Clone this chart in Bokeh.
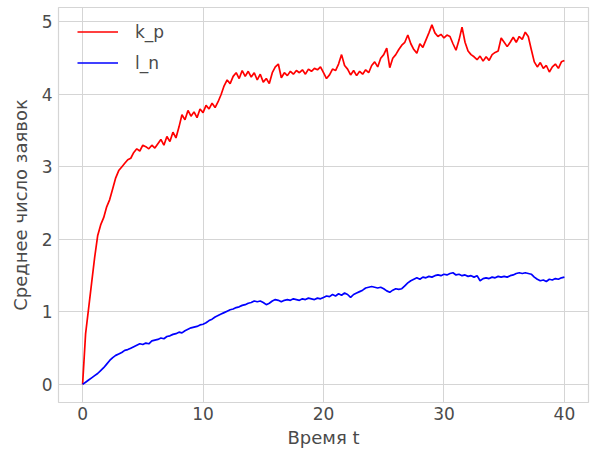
from bokeh.plotting import figure
from bokeh.models import Range1d, FixedTicker, Legend, LegendItem
from bokeh.embed import file_html
from bokeh.resources import INLINE

# Mean number of requests over time (step 0.25)
k_p = [
    0.0, 0.7, 1.05, 1.4, 1.75, 2.05, 2.2, 2.3, 2.45, 2.55, 2.7, 2.85, 2.95, 3.0, 3.05, 3.1,
    3.12, 3.2, 3.25, 3.22, 3.3, 3.28, 3.25, 3.3, 3.26, 3.32, 3.38, 3.3, 3.42, 3.35, 3.48, 3.4,
    3.55, 3.72, 3.65, 3.78, 3.7, 3.76, 3.68, 3.8, 3.75, 3.85, 3.8, 3.88, 3.82, 3.9, 4.0, 4.12,
    4.2, 4.15, 4.25, 4.3, 4.22, 4.33, 4.25, 4.32, 4.24, 4.3, 4.2, 4.28, 4.17, 4.22, 4.15, 4.3,
    4.38, 4.42, 4.23, 4.3, 4.26, 4.32, 4.28, 4.33, 4.3, 4.34, 4.28, 4.35, 4.32, 4.36, 4.34, 4.38,
    4.3, 4.22, 4.27, 4.35, 4.33, 4.42, 4.55, 4.4, 4.35, 4.27, 4.33, 4.26, 4.32, 4.28, 4.34, 4.3,
    4.4, 4.45, 4.38, 4.5, 4.55, 4.64, 4.37, 4.5, 4.55, 4.62, 4.68, 4.72, 4.82, 4.7, 4.62, 4.57,
    4.7, 4.65, 4.75, 4.85, 4.96, 4.85, 4.8, 4.83, 4.78, 4.82, 4.8, 4.7, 4.61, 4.75, 4.93, 4.72,
    4.6, 4.55, 4.52, 4.48, 4.53, 4.46, 4.52, 4.47, 4.55, 4.58, 4.6, 4.78, 4.72, 4.66, 4.72, 4.79,
    4.72, 4.8, 4.76, 4.86, 4.8, 4.62, 4.45, 4.38, 4.44, 4.36, 4.4, 4.31, 4.38, 4.42, 4.36, 4.45,
    4.47,
]
l_n = [
    0.0, 0.03, 0.06, 0.09, 0.12, 0.15, 0.19, 0.23, 0.28, 0.33, 0.37, 0.4, 0.42, 0.44, 0.47, 0.48,
    0.5, 0.52, 0.54, 0.56, 0.55, 0.57, 0.56, 0.6, 0.61, 0.62, 0.64, 0.63, 0.66, 0.67, 0.69, 0.7,
    0.72, 0.71, 0.74, 0.76, 0.78, 0.79, 0.8, 0.82, 0.83, 0.85, 0.88, 0.9, 0.93, 0.95, 0.97, 0.99,
    1.01, 1.03, 1.04, 1.06, 1.07, 1.09, 1.1, 1.12, 1.13, 1.15, 1.14, 1.15, 1.13, 1.1, 1.12, 1.15,
    1.17, 1.16, 1.14, 1.16, 1.17, 1.16, 1.18, 1.17, 1.16, 1.18, 1.17, 1.19, 1.18, 1.17, 1.19, 1.18,
    1.2, 1.22, 1.21, 1.24, 1.22, 1.25, 1.23, 1.26, 1.24, 1.2, 1.24, 1.26, 1.28, 1.3, 1.33, 1.34,
    1.35, 1.34, 1.33, 1.34, 1.32, 1.29, 1.27, 1.3, 1.32, 1.31, 1.32, 1.36, 1.4, 1.43, 1.45, 1.47,
    1.45, 1.48, 1.47, 1.49, 1.48, 1.5, 1.51, 1.5, 1.52, 1.51, 1.53, 1.54, 1.51, 1.52, 1.5, 1.51,
    1.49, 1.5, 1.48, 1.5, 1.43, 1.46, 1.47, 1.46, 1.48, 1.47, 1.49, 1.48, 1.49, 1.48, 1.5, 1.51,
    1.53, 1.54, 1.53, 1.54, 1.53, 1.52, 1.48, 1.45, 1.43, 1.44, 1.42, 1.45, 1.44, 1.46, 1.45, 1.47,
    1.48,
]
time_step = 0.25
t = [i * time_step for i in range(len(k_p))]

x_ticks = [0, 10, 20, 30, 40]
y_ticks = [0, 1, 2, 3, 4, 5]
x_label = "Время t"
y_label = "Среднее число заявок"
series_names = ["k_p", "l_n"]

FONT = "DejaVu Sans"
TEXT = "#4a4a4a"
GRID = "#d5d5d5"
FS = "17px"
FS_LABEL = "18px"

p = figure(width=592, height=450, output_backend="svg", toolbar_location=None,
           x_range=Range1d(-2, 42), y_range=Range1d(-0.25, 5.2))
p.min_border_left = 58
p.min_border_right = 4
p.min_border_top = 7
p.min_border_bottom = 47
p.background_fill_color = "white"
p.border_fill_color = "white"
p.outline_line_color = GRID
p.outline_line_width = 1.2

r1 = p.line(t, k_p, line_color="red", line_width=1.7)
r2 = p.line(t, l_n, line_color="blue", line_width=1.7)

p.xaxis.ticker = FixedTicker(ticks=x_ticks)
p.yaxis.ticker = FixedTicker(ticks=y_ticks)
for ax in (p.xaxis[0], p.yaxis[0]):
    ax.axis_line_color = None
    ax.major_tick_line_color = None
    ax.minor_tick_line_color = None
    ax.major_tick_out = 0
    ax.major_tick_in = 0
    ax.minor_tick_out = 0
    ax.minor_tick_in = 0
    ax.major_label_text_font = FONT
    ax.major_label_text_font_size = FS
    ax.major_label_text_color = TEXT
    ax.axis_label_text_font = FONT
    ax.axis_label_text_font_size = FS_LABEL
    ax.axis_label_text_font_style = "normal"
    ax.axis_label_text_color = TEXT
p.xaxis.axis_label = x_label
p.yaxis.axis_label = y_label
p.xaxis.major_label_standoff = 4
p.xaxis.axis_label_standoff = 4
p.yaxis.major_label_standoff = 6
p.yaxis.axis_label_standoff = 8

p.xgrid.grid_line_color = GRID
p.ygrid.grid_line_color = GRID
p.xgrid.ticker = FixedTicker(ticks=x_ticks)
p.ygrid.ticker = FixedTicker(ticks=y_ticks)

legend = Legend(items=[LegendItem(label=series_names[0], renderers=[r1]),
                       LegendItem(label=series_names[1], renderers=[r2])],
                location=(19, 329))
legend.background_fill_alpha = 0
legend.border_line_alpha = 0
legend.padding = 0
legend.margin = 0
legend.spacing = 10
legend.glyph_width = 41
legend.glyph_height = 21
legend.label_height = 21
legend.label_standoff = 17
legend.label_text_font = FONT
legend.label_text_font_size = FS
legend.label_text_color = TEXT
p.add_layout(legend, "center")

open("out.html", "w").write(file_html(p, INLINE))
